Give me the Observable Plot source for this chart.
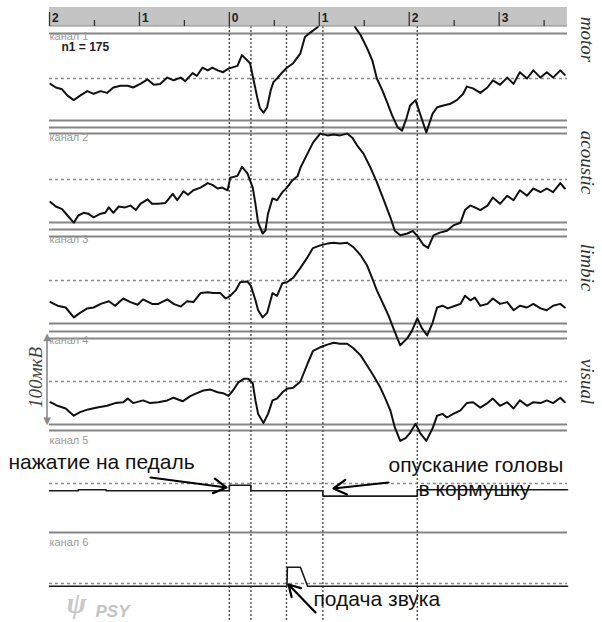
<!DOCTYPE html>
<html>
<head>
<meta charset="utf-8">
<script src="https://cdn.jsdelivr.net/npm/d3@7"></script>
<script src="https://cdn.jsdelivr.net/npm/@observablehq/plot@0.6"></script>
<style>
  html, body { margin: 0; padding: 0; background: #fff; }
  #chart svg { display: block; }
</style>
</head>
<body>
<div id="chart"></div>
<script>
// ---------------- DATA ----------------
// time in seconds relative to pedal press, amplitude in µV (relative to channel baseline)
const motorT = [-1.99,-1.93,-1.86,-1.80,-1.73,-1.66,-1.58,-1.51,-1.43,-1.36,-1.29,-1.21,-1.13,-1.07,-0.99,-0.91,-0.84,-0.77,-0.69,-0.62,-0.54,-0.49,-0.41,-0.36,-0.30,-0.24,-0.19,-0.13,-0.07,-0.01,0.09,0.14,0.20,0.23,0.27,0.31,0.34,0.38,0.42,0.46,0.49,0.53,0.59,0.64,0.71,0.79,0.84,0.90,0.98,1.07,1.18,1.29,1.37,1.40,1.46,1.53,1.59,1.64,1.70,1.76,1.81,1.87,1.92,1.97,2.01,2.07,2.12,2.19,2.26,2.31,2.38,2.46,2.53,2.60,2.64,2.71,2.79,2.87,2.93,3.01,3.09,3.16,3.23,3.31,3.38,3.46,3.53,3.60,3.68,3.73];
const motorV = [-6,-10,-12,-19,-24,-19,-14,-17,-14,-16,-10,-8,-8,-10,-6,-1,-7,-6,1,-2,1,-3,6,3,12,9,12,9,7,11,14,26,20,17,-2,-21,-33,-38,-32,-13,-4,0,7,12,17,28,46,51,57,68,70,70,66,57,48,34,20,0,-13,-28,-41,-54,-58,-44,-30,-24,-39,-60,-39,-32,-30,-28,-24,-17,-9,-11,-16,-10,-2,-7,1,-6,7,0,9,1,7,1,9,4];

const acousticT = [-1.99,-1.93,-1.86,-1.80,-1.73,-1.68,-1.62,-1.57,-1.51,-1.43,-1.38,-1.34,-1.29,-1.23,-1.16,-1.10,-1.04,-0.99,-0.91,-0.86,-0.79,-0.71,-0.63,-0.58,-0.51,-0.46,-0.40,-0.32,-0.24,-0.19,-0.13,-0.08,-0.02,0.01,0.09,0.14,0.20,0.26,0.29,0.32,0.37,0.40,0.43,0.48,0.53,0.59,0.64,0.70,0.76,0.79,0.87,0.93,1.01,1.09,1.16,1.23,1.31,1.37,1.42,1.49,1.57,1.64,1.71,1.79,1.84,1.90,1.98,2.04,2.10,2.16,2.21,2.27,2.34,2.42,2.49,2.57,2.62,2.68,2.73,2.79,2.87,2.93,3.01,3.09,3.16,3.23,3.31,3.38,3.46,3.53,3.60,3.68,3.73];
const acousticV = [-25,-30,-33,-40,-48,-40,-37,-38,-42,-38,-37,-31,-37,-30,-31,-29,-34,-27,-22,-27,-27,-26,-16,-23,-13,-17,-12,-9,-4,-6,-10,-9,-12,2,4,14,7,-9,-27,-48,-60,-57,-38,-21,-23,-14,-9,-1,4,13,29,41,51,49,50,49,51,46,38,29,13,-3,-21,-42,-57,-62,-60,-57,-64,-73,-76,-62,-59,-57,-51,-48,-34,-29,-31,-34,-29,-20,-27,-18,-23,-12,-18,-10,-14,-10,-14,-4,-10];

const limbicT = [-1.99,-1.91,-1.82,-1.73,-1.66,-1.58,-1.51,-1.43,-1.34,-1.27,-1.18,-1.10,-1.02,-0.96,-0.86,-0.79,-0.69,-0.62,-0.54,-0.47,-0.40,-0.32,-0.24,-0.18,-0.10,-0.04,0.01,0.07,0.12,0.20,0.24,0.29,0.32,0.37,0.42,0.48,0.53,0.59,0.64,0.71,0.79,0.87,0.93,1.01,1.09,1.16,1.23,1.31,1.38,1.46,1.53,1.59,1.64,1.71,1.77,1.82,1.90,1.98,2.03,2.09,2.14,2.20,2.26,2.31,2.37,2.43,2.51,2.57,2.62,2.68,2.73,2.79,2.87,2.93,3.01,3.09,3.16,3.23,3.31,3.38,3.46,3.53,3.60,3.68,3.73];
const limbicV = [-24,-28,-30,-41,-36,-31,-30,-26,-23,-28,-20,-24,-27,-21,-26,-26,-21,-26,-29,-23,-24,-14,-13,-14,-14,-20,-17,-11,-2,-1,-6,-22,-33,-41,-36,-14,-17,-3,-2,3,14,26,36,39,41,42,41,42,37,28,17,2,-11,-26,-39,-52,-72,-64,-56,-42,-53,-61,-47,-30,-28,-31,-28,-26,-17,-22,-19,-28,-26,-20,-26,-24,-33,-28,-30,-26,-31,-33,-28,-26,-30];

const visualT = [-1.99,-1.91,-1.82,-1.73,-1.66,-1.57,-1.47,-1.36,-1.27,-1.18,-1.13,-1.07,-0.96,-0.88,-0.79,-0.69,-0.62,-0.52,-0.43,-0.36,-0.29,-0.21,-0.13,-0.07,-0.01,0.04,0.10,0.16,0.21,0.26,0.29,0.32,0.38,0.43,0.48,0.53,0.59,0.64,0.71,0.79,0.87,0.93,1.01,1.09,1.16,1.23,1.31,1.38,1.46,1.53,1.60,1.68,1.73,1.79,1.84,1.90,1.96,2.01,2.07,2.12,2.19,2.26,2.31,2.37,2.42,2.49,2.57,2.64,2.71,2.79,2.87,2.93,3.01,3.09,3.16,3.23,3.31,3.38,3.46,3.53,3.60,3.68,3.73];
const visualV = [-23,-27,-30,-38,-34,-31,-29,-27,-24,-23,-19,-24,-21,-24,-23,-21,-18,-22,-16,-13,-10,-9,-12,-13,-16,-10,-1,3,3,-2,-21,-36,-46,-36,-21,-19,-12,-8,-7,0,20,34,38,41,43,42,42,37,29,18,7,-7,-18,-32,-51,-66,-63,-57,-47,-57,-66,-52,-38,-36,-40,-36,-32,-24,-23,-29,-24,-19,-27,-23,-30,-21,-27,-23,-24,-21,-24,-18,-23];

// channel 5: pedal press / head lowering (step signal)
const pedalT = [-2, -1.68, -1.37, 0, 0.24, 1.04, 2.09, 3.76];
const pedalV = [-8, -7, -8, -2, -8, -14, -7, -7];
// channel 6: sound onset
const soundT = [-2, 0.64, 0.645, 0.79, 0.87, 3.76];
const soundV = [-3, -3, 18, 18, -3, -3];

// event markers (s)
const events = [0, 0.24, 0.635, 1.04, 2.09];
// axis ticks
const majorTicks = [-2, -1, 0, 1, 2, 3];
const tickLabels = ["2", "1", "0", "1", "2", "3"];
const minorTicks = [-1.5, -0.5, 0.5, 1.5, 2.5, 3.5];

const regionNames = ["motor", "acoustic", "limbic", "visual"];
const channelNames = ["канал 1", "канал 2", "канал 3", "канал 4", "канал 5", "канал 6"];
const annotations = ["нажатие на педаль", "опускание головы", "в кормушку", "подача звука"];
const countLabel = "n1 = 175";
const scaleLabel = "100мкВ";

// ---------------- LAYOUT (pixel positions in the 602x622 frame) ----------------
const PX_PER_UV = 0.9;             // 100 µV scale bar = 90 px
const BASE0 = 78;                   // baseline of channel 1 (px)
const Y = p => (BASE0 - p) / PX_PER_UV;            // px row -> y units (µV)
const X = p => -2 + (p - 49) * 5.76 / 518;          // px column -> x units (s)
const chanBasePx = [78, 179, 280, 381, 483, 583];
const chanOffset = chanBasePx.map(Y);
const sepRowsPx = [33, 120, 127, 133, 222, 229, 236, 323, 331, 338, 424, 430, 532];
const chanLabelPx = [36, 137, 239, 340, 440, 542];
const regionLabelPx = [39, 162, 267, 381];
const annotPos = [[8, 462], [388, 465], [418, 489], [313, 599]];
const arrowPx = [
  [150, 477, 226, 487],
  [388, 482, 333, 488],
  [315, 612, 288, 584]
];

// ---------------- BUILD ----------------
const series = [
  {name: "motor", t: motorT, v: motorV},
  {name: "acoustic", t: acousticT, v: acousticV},
  {name: "limbic", t: limbicT, v: limbicV},
  {name: "visual", t: visualT, v: visualV}
];
const traceData = series.flatMap((s, k) => {
  const n = Math.min(s.t.length, s.v.length);
  return d3.range(n).map(i => ({ch: s.name, t: s.t[i], y: chanOffset[k] + s.v[i]}));
});
const pedalData = pedalT.map((t, i) => ({t, y: chanOffset[4] + pedalV[i]}));
const soundData = soundT.map((t, i) => ({t, y: chanOffset[5] + soundV[i]}));

const XMIN = -2, XMAX = 3.76;
const sans = "Liberation Sans, Arial, Helvetica, sans-serif";
const serif = "Liberation Serif, Times New Roman, serif";

const chart = Plot.plot({
  width: 602,
  height: 622,
  marginLeft: 49,
  marginRight: 35,
  marginTop: 0,
  marginBottom: 0,
  style: {background: "#fff", overflow: "visible"},
  x: {domain: [XMIN, XMAX], axis: null},
  y: {domain: [Y(622), Y(0)], axis: null},
  marks: [
    // channel separator lines
    Plot.ruleY(sepRowsPx, {y: d => Y(d), x1: XMIN, x2: XMAX, stroke: "#858585", strokeWidth: 1.8}),
    // dashed baselines
    Plot.ruleY(chanOffset, {y: d => d, x1: XMIN, x2: XMAX, stroke: "#8c8c8c", strokeWidth: 1.4, strokeDasharray: "3,3"}),
    // event markers
    Plot.ruleX(events, {x: d => d, y1: Y(26), y2: Y(622), stroke: "#4a4a4a", strokeWidth: 1.4, strokeDasharray: "2,2"}),
    // channel labels
    Plot.text(channelNames, {x: XMIN, y: (d, i) => Y(chanLabelPx[i]), text: d => d, textAnchor: "start", fontSize: 11, fontFamily: sans, fill: "#9a9a9a"}),
    // traces
    Plot.line(traceData, {x: "t", y: "y", z: "ch", stroke: "#111", strokeWidth: 2}),
    Plot.line(pedalData, {x: "t", y: "y", curve: "step-after", stroke: "#1a1a1a", strokeWidth: 1.6}),
    Plot.line(soundData, {x: "t", y: "y", stroke: "#1a1a1a", strokeWidth: 1.6}),
    // top time bar
    Plot.rect([0], {x1: XMIN, x2: XMAX, y1: Y(26), y2: Y(7), fill: "#c4c4c4"}),
    Plot.ruleY([Y(25.5)], {y: d => d, x1: XMIN, x2: XMAX, stroke: "#8a8a8a", strokeWidth: 1}),
    Plot.ruleX(majorTicks, {x: d => d, y1: Y(26), y2: Y(12), stroke: "#333", strokeWidth: 1.3}),
    Plot.ruleX(minorTicks, {x: d => d, y1: Y(26), y2: Y(20), stroke: "#333", strokeWidth: 1.3}),
    Plot.text(majorTicks, {x: d => d, y: Y(17.5), text: (d, i) => tickLabels[i], dx: 2.5, textAnchor: "start", fontSize: 12, fontWeight: "bold", fontFamily: sans, fill: "#222"}),
    // n label
    Plot.text([countLabel], {x: X(61), y: Y(47), text: d => d, textAnchor: "start", fontSize: 12, fontWeight: "bold", fontFamily: sans, fill: "#222"}),
    // region labels on the right
    Plot.text(regionNames, {x: X(587), y: (d, i) => Y(regionLabelPx[i]), text: d => d, rotate: 90, fontSize: 19, fontStyle: "italic", fontFamily: serif, fill: "#333"}),
    // amplitude scale bar
    Plot.ruleX([X(46.5)], {x: d => d, y1: Y(338), y2: Y(418), stroke: "#8a8a8a", strokeWidth: 1.6}),
    Plot.text(["▲", "▼"], {x: X(46.5), y: (d, i) => Y(i ? 420 : 336), text: d => d, fontSize: 10, fontFamily: "DejaVu Sans, sans-serif", fill: "#8a8a8a"}),
    Plot.text([scaleLabel], {x: X(35), y: Y(377), text: d => d, rotate: -90, fontSize: 19, fontStyle: "italic", fontFamily: serif, fill: "#444"}),
    // annotations
    Plot.text(annotations, {x: (d, i) => X(annotPos[i][0]), y: (d, i) => Y(annotPos[i][1]), text: d => d, textAnchor: "start", fontSize: 21, fontFamily: sans, fill: "#111"}),
    Plot.arrow(arrowPx, {x1: d => X(d[0]), y1: d => Y(d[1]), x2: d => X(d[2]), y2: d => Y(d[3]), stroke: "#000", strokeWidth: 2.2, headLength: 10}),
    // logo
    Plot.text(["ψ"], {x: X(76), y: Y(603), text: d => d, fontSize: 30, fontWeight: "bold", fontStyle: "italic", fontFamily: serif, fill: "#c8c8c8"}),
    Plot.text(["PSY"], {x: X(95), y: Y(611), text: d => d, textAnchor: "start", fontSize: 17, fontWeight: "bold", fontStyle: "italic", fontFamily: sans, fill: "#c4c4c4"})
  ]
});

document.getElementById("chart").appendChild(chart);
</script>
</body>
</html>
